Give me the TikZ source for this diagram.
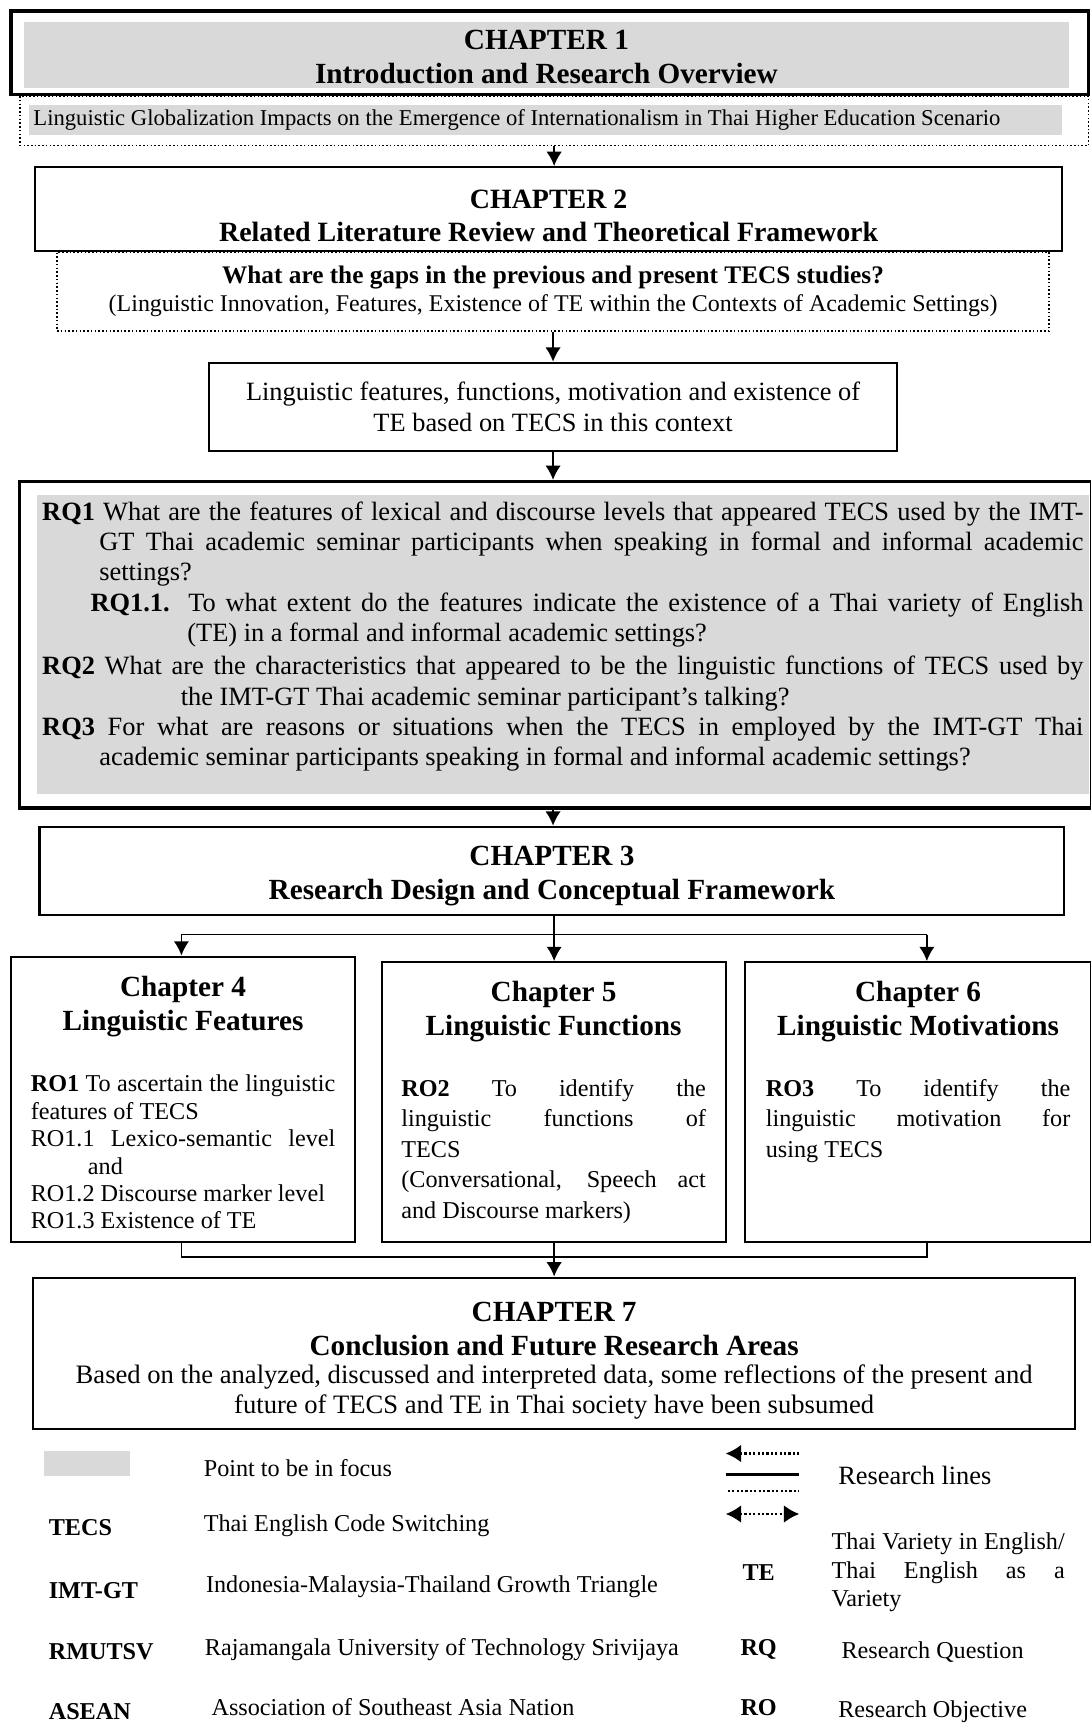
\documentclass[tikz,border=0pt]{standalone}
\usepackage{fontspec}
\setmainfont{Liberation Serif}
\usetikzlibrary{arrows.meta,positioning}
\definecolor{focusgray}{RGB}{217,217,217}
\newcommand{\headfont}{\fontsize{13.3}{15.5}\selectfont\bfseries}
\newcommand{\bodyfont}{\fontsize{12}{14}\selectfont}
\newcommand{\keyfont}{\fontsize{11}{13}\selectfont}
\tikzset{
chapbox/.style = {draw, line width=1pt, inner sep=0pt},
headtext/.style = {align=center, font=\headfont, inner sep=0pt},
plainbox/.style = {draw, line width=1pt, align=center, font=\bodyfont, inner sep=0pt},
outerframe/.style = {draw, line width=1.5pt, inner sep=0pt},
dotbox/.style = {draw, densely dotted, line width=0.7pt, inner sep=0pt},
focusbox/.style = {fill=focusgray, inner sep=0pt},
sidebox/.style = {draw, line width=0.9pt, inner sep=0pt},
robody/.style = {text width=138.5pt, align=justify, inner sep=0pt},
rqtext/.style = {text width=473.5pt, align=justify, font=\fontsize{12}{13.75}\selectfont, inner sep=0pt},
keyabbr/.style = {font=\keyfont\bfseries, inner sep=0pt},
keytext/.style = {font=\keyfont, inner sep=0pt},
keyline/.style = {line width=1pt, dash pattern=on 1pt off 1pt},
keytip/.tip = {Latex[length=7pt,width=8pt]},
conn/.style = {line width=0.8pt}
}

\begin{document}
\begin{tikzpicture}[x=0.5pt, y=-0.5pt, >={Latex[length=6.5pt,width=7pt]}]
  \useasboundingbox (0,0) rectangle (992,1568);

  \node [outerframe, minimum width=490pt, minimum height=38pt]              (ch1frame)  at (500,48)    {};
  \node [focusbox, minimum width=475pt, minimum height=30pt]                (ch1)       at (497,50)    {};
  \node [headtext, yshift=-1pt]                                             (ch1text)   at (ch1)
        {CHAPTER 1\\Introduction and Research Overview};
  \node [dotbox, minimum width=486pt, minimum height=22.5pt]                (ch1dot)    at (504,110)   {};
  \node [focusbox, minimum width=470pt, minimum height=13.5pt]              (scenario)  at (496,109)   {};
  \node [font=\fontsize{10.3}{12}\selectfont, inner sep=0pt, anchor=west]  (scenariotxt) at (30,109)
        {Linguistic Globalization Impacts on the Emergence of Internationalism in Thai Higher Education Scenario};

  \node [chapbox, minimum width=467pt, minimum height=38pt]                  (ch2)       at (499,190)   {};
  \node [headtext, font=\fontsize{12.7}{15}\selectfont\bfseries, yshift=-3pt] (ch2text) at (ch2)
        {CHAPTER 2\\Related Literature Review and Theoretical Framework};
  \node [dotbox, align=center, font=\fontsize{10.9}{13}\selectfont, minimum width=451pt, minimum height=36pt] (gaps) at (503,265)
        {\textbf{\fontsize{11.5}{13}\selectfont What are the gaps in the previous and present TECS studies?}\\(Linguistic Innovation, Features, Existence of TE within the Contexts of Academic Settings)};
  \node [plainbox, minimum width=313pt, minimum height=40pt]                 (feat)      at (503,370)
        {Linguistic features, functions, motivation and existence of\\TE based on TECS in this context};

  \node [outerframe, minimum width=487.5pt, minimum height=148.5pt]         (rqframe)   at (505.5,586.5) {};
  \node [focusbox, minimum width=478pt, minimum height=136pt]               (rqfill)    at (512,586)   {};
  \node [rqtext, anchor=north west]                                         (rqs)       at (38,456)
        {\parindent=0pt
         \hangindent=26pt\hangafter=1 \textbf{RQ1} What are the features of lexical and discourse levels that appeared TECS used by the IMT-\linebreak GT Thai academic seminar participants when speaking in formal and informal academic\linebreak settings?\par
         \hangindent=66pt\hangafter=1 \hspace*{22pt}\textbf{RQ1.1.} To what extent do the features indicate the existence of a Thai variety of English\linebreak (TE) in a formal and informal academic settings?\par
         \vspace{1.5pt}
         \hangindent=63pt\hangafter=1 \textbf{RQ2} What are the characteristics that appeared to be the linguistic functions of TECS used by\linebreak the IMT-GT Thai academic seminar participant's talking?\par
         \hangindent=26pt\hangafter=1 \textbf{RQ3} For what are reasons or situations when the TECS in employed by the IMT-GT Thai\linebreak academic seminar participants speaking in formal and informal academic settings?\par};

  \node [chapbox, minimum width=466pt, minimum height=40pt]                  (ch3)       at (502,792)   {};
  \node [headtext, yshift=-2.5pt]                                           (ch3text)   at (ch3)
        {CHAPTER 3\\Research Design and Conceptual Framework};

  \node [sidebox, minimum width=156.5pt, minimum height=130pt]              (ch4)       at (166.5,1000) {};
  \node [sidebox, minimum width=156.5pt, minimum height=127.5pt]            (ch5)       at (503.5,1002.5) {};
  \node [sidebox, minimum width=157pt, minimum height=127.5pt]              (ch6)       at (835,1002.5) {};
  \node [headtext, below=9pt of ch4.north]                                  (ch4head)   {Chapter 4\\Linguistic Features};
  \node [headtext, below=9pt of ch5.north]                                  (ch5head)   {Chapter 5\\Linguistic Functions};
  \node [headtext, below=9pt of ch6.north]                                  (ch6head)   {Chapter 6\\Linguistic Motivations};
  \node [robody, font=\fontsize{11}{12.5}\selectfont, below=54pt of ch4.north] (ro1)
        {\parindent=0pt
         \textbf{RO1} To ascertain the linguistic\linebreak features of TECS\par
         \hangindent=26pt\hangafter=1 RO1.1 Lexico-semantic level\linebreak and\par
         RO1.2 Discourse marker level\par
         RO1.3 Existence of TE\par};
  \node [robody, font=\fontsize{11}{13.9}\selectfont, below=53.5pt of ch5.north] (ro2)
        {\parindent=0pt
         \textbf{RO2} To identify the\linebreak linguistic functions of\linebreak TECS\par
         (Conversational, Speech act\linebreak and Discourse markers)\par};
  \node [robody, font=\fontsize{11}{13.9}\selectfont, below=53.5pt of ch6.north] (ro3)
        {\parindent=0pt
         \textbf{RO3} To identify the\linebreak linguistic motivation for\linebreak using TECS\par};

  \node [chapbox, minimum width=474pt, minimum height=69pt]                 (ch7)       at (504,1231)  {};
  \node [headtext]                                                          (ch7head)   at (504,1209)
        {CHAPTER 7\\Conclusion and Future Research Areas};
  \node [plainbox, draw=none, font=\fontsize{12.1}{13.5}\selectfont]       (ch7text)   at (504,1266)
        {Based on the analyzed, discussed and interpreted data, some reflections of the present and\\future of TECS and TE in Thai society have been subsumed};

  \coordinate (split) at (504,850);
  \coordinate (s4)    at (165,850);
  \coordinate (s6)    at (843,850);
  \coordinate (j4)    at (165,1143);
  \coordinate (j6)    at (843,1143);

  \draw [conn, ->] (ch1dot.south) -- (ch1dot.south |- ch2.north);
  \draw [conn, ->] (gaps) -- (feat);
  \draw [conn, ->] (feat) -- (feat.south |- rqframe.north);
  \draw [conn, ->] (rqframe.south -| feat.south) -- (feat.south |- ch3.north);
  \draw [conn] (ch3.south -| split) -- (split);
  \draw [conn, ->] (split) -- (split |- ch5.north);
  \draw [conn, ->] (s4) -- (s6) (s4) -- (s4 |- ch4.north);
  \draw [conn, ->] (s6) -- (s6 |- ch6.north);
  \draw [conn] (j4 |- ch4.south) -- (j4) -- (j6) -- (j6 |- ch6.south);
  \draw [conn, ->] (ch5.south -| ch7.north) -- (ch7.north);

  \node [focusbox, minimum width=39pt, minimum height=11pt]                 (keyfocus)  at (79,1331)   {};
  \node [keytext, anchor=west]                                              (focustxt)  at (185,1335)  {Point to be in focus};
  \node [keyabbr, anchor=west]                                              (tecs)      at (44,1389)   {TECS};
  \node [keytext, anchor=west]                                              (tecstxt)   at (185,1388)  {Thai English Code Switching};
  \node [keyabbr, anchor=west]                                              (imtgt)     at (44,1447)   {IMT-GT};
  \node [keytext, anchor=west]                                              (imtgttxt)  at (187,1443)  {Indonesia-Malaysia-Thailand Growth Triangle};
  \node [keyabbr, anchor=west]                                              (rmutsv)    at (44,1502)   {RMUTSV};
  \node [keytext, anchor=west]                                              (rmutsvtxt) at (186,1500)  {Rajamangala University of Technology Srivijaya};
  \node [keyabbr, anchor=west]                                              (asean)     at (44,1557)   {ASEAN};
  \node [keytext, anchor=west]                                              (aseantxt)  at (192,1553)  {Association of Southeast Asia Nation};

  \coordinate (ln1a) at (660,1322);  \coordinate (ln1b) at (727,1322);
  \coordinate (ln2a) at (660,1341);  \coordinate (ln2b) at (727,1341);
  \coordinate (ln3a) at (662,1356);  \coordinate (ln3b) at (727,1356);
  \coordinate (ln4a) at (660,1377);  \coordinate (ln4b) at (727,1377);
  \draw [keyline, -keytip] (ln1b) -- (ln1a);
  \draw [line width=1.2pt] (ln2a) -- (ln2b);
  \draw [keyline] (ln3a) -- (ln3b);
  \draw [keyline, keytip-keytip] (ln4a) -- (ln4b);
  \node [keytext, font=\bodyfont, anchor=west]                              (lines)     at (762,1342)  {Research lines};

  \node [keyabbr]                                                           (te)        at (690,1430)  {TE};
  \node [keytext, text width=106pt, align=justify, anchor=west]             (tetxt)     at (756,1430)
        {Thai Variety in English/\linebreak Thai English as a\linebreak Variety};
  \node [keyabbr]                                                           (rq)        at (690,1500)  {RQ};
  \node [keytext, anchor=west]                                              (rqtxt)     at (765,1503)  {Research Question};
  \node [keyabbr]                                                           (ro)        at (690,1553)  {RO};
  \node [keytext, anchor=west]                                              (rotxt)     at (762,1557)  {Research Objective};
\end{tikzpicture}
\end{document}
